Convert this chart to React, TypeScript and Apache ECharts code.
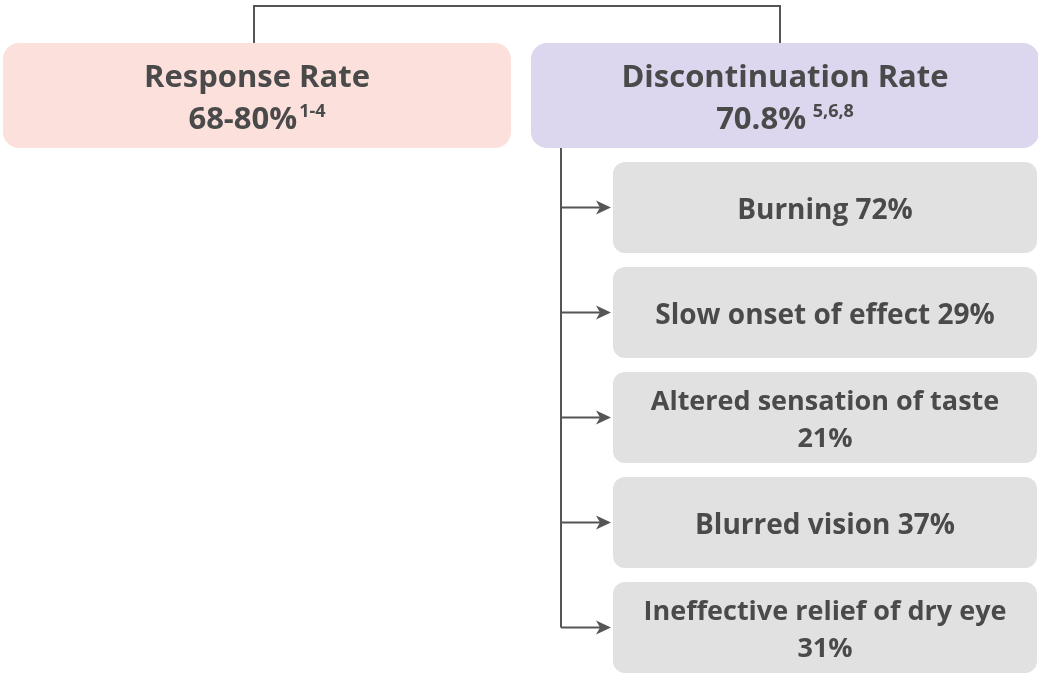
import React, { useEffect, useRef } from "react";
import * as echarts from "echarts";

const headerTitles = ["Response Rate", "Discontinuation Rate"];
const headerValues = ["68-80%", "70.8%"];
const headerRefs = ["1-4", " 5,6,8"];
const headerColors = ["#fce0dc", "#dcd6ee"];

const causeLabels = [
  "Burning",
  "Slow onset of effect",
  "Altered sensation of taste",
  "Blurred vision",
  "Ineffective relief of dry eye",
];
const causePercents = [72, 29, 21, 37, 31];

const FONT = "'Open Sans', sans-serif";
const TEXT = "#4a4a4a";
const LINE = "#555555";

export default function App() {
  const ref = useRef<HTMLDivElement>(null);
  useEffect(() => {
    if (!ref.current) return;
    const chart = echarts.init(ref.current, null, { renderer: "svg" });
    const els: any[] = [];

    // top connector
    els.push({
      type: "polyline",
      shape: { points: [[254, 43], [254, 6], [780, 6], [780, 43]] },
      style: { stroke: LINE, lineWidth: 2, fill: null },
    });

    const hx = [3, 531];
    const hw = 508;
    headerTitles.forEach((t, i) => {
      els.push({
        type: "rect",
        shape: { x: hx[i], y: 43, width: hw, height: 105, r: 16 },
        style: { fill: headerColors[i] },
      });
      els.push({
        type: "text",
        x: hx[i] + hw / 2,
        y: 96,
        style: {
          text: `{t|${t}}\n{v|${headerValues[i]}}{s|${headerRefs[i]}}`,
          align: "center",
          verticalAlign: "middle",
          fill: TEXT,
          rich: {
            t: { fontFamily: FONT, fontWeight: 700, fontSize: 31, lineHeight: 42, fill: TEXT },
            v: { fontFamily: FONT, fontWeight: 700, fontSize: 31, lineHeight: 42, fill: TEXT },
            s: { fontFamily: FONT, fontWeight: 700, fontSize: 18, lineHeight: 18, fill: TEXT, verticalAlign: "top", padding: [5, 0, 0, 2] },
          },
        },
      });
    });

    // vertical trunk
    const trunkX = 561;
    const boxX = 613;
    const boxW = 424;
    const boxH = 91;
    const boxTop = 162;
    const step = 105;
    const lastCenter = boxTop + (causeLabels.length - 1) * step + boxH / 2;
    els.push({
      type: "line",
      shape: { x1: trunkX, y1: 148, x2: trunkX, y2: lastCenter },
      style: { stroke: LINE, lineWidth: 2 },
    });

    causeLabels.forEach((lab, i) => {
      const y0 = boxTop + i * step;
      const cy = y0 + boxH / 2;
      els.push({
        type: "rect",
        shape: { x: boxX, y: y0, width: boxW, height: boxH, r: 12 },
        style: { fill: "#e1e1e1" },
      });
      els.push({
        type: "line",
        shape: { x1: trunkX, y1: cy, x2: 604, y2: cy },
        style: { stroke: LINE, lineWidth: 2 },
      });
      els.push({
        type: "polygon",
        shape: { points: [[611, cy], [596, cy - 7], [600, cy], [596, cy + 7]] },
        style: { fill: LINE },
      });
      const twoLine = lab.length > 22;
      const txt = twoLine ? `${lab}\n${causePercents[i]}%` : `${lab} ${causePercents[i]}%`;
      els.push({
        type: "text",
        x: boxX + boxW / 2,
        y: cy,
        style: {
          text: txt,
          align: "center",
          verticalAlign: "middle",
          fontFamily: FONT,
          fontWeight: 700,
          fontSize: twoLine ? 27 : 28,
          lineHeight: 37,
          fill: TEXT,
        },
      });
    });

    chart.setOption({ animation: false, graphic: { elements: els } });
    return () => chart.dispose();
  }, []);
  return <div ref={ref} style={{ position: "fixed", left: 0, top: 0, width: 1038, height: 678 }} />;
}
